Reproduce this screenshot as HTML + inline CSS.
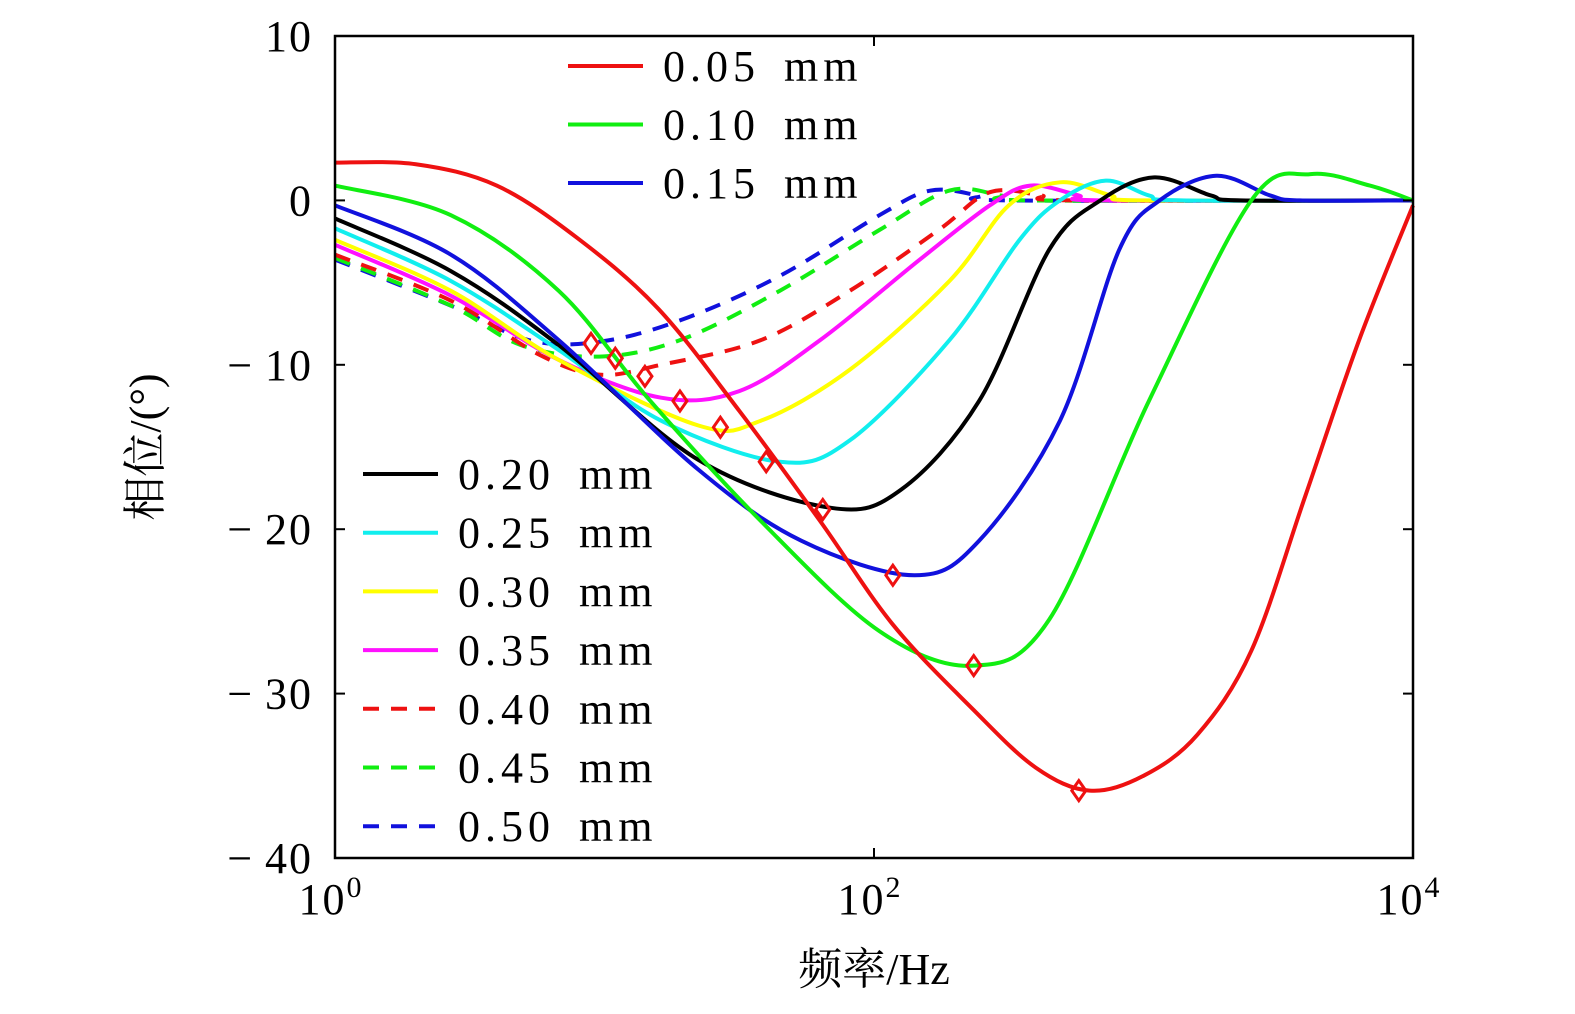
<!DOCTYPE html>
<html><head><meta charset="utf-8"><style>
html,body{margin:0;padding:0;background:#fff;}
svg{display:block;font-family:"Liberation Serif","Noto Serif CJK SC",serif;}
</style></head><body>
<svg id="chart" width="1575" height="1014" viewBox="0 0 1575 1014">
<g id="plot"></g>
</svg>
<script>
const xTickExps=[0,2,4];
const yTicks=[10,0,-10,-20,-30,-40];
const seriesNames=["0.05 mm","0.10 mm","0.15 mm","0.20 mm","0.25 mm","0.30 mm","0.35 mm","0.40 mm","0.45 mm","0.50 mm"];
const s005=[[0,2.3],[0.3,2.2],[0.6,0.9],[0.9,-2.3],[1.2,-6.6],[1.5,-12.8],[1.8,-19.5],[2.07,-25.8],[2.37,-31],[2.6,-34.5],[2.8,-35.9],[3.0,-35],[3.2,-32.5],[3.4,-27.4],[3.6,-18],[3.8,-8.5],[4,-0.3]];
const s010=[[0,0.9],[0.43,-0.9],[0.83,-5.5],[1.17,-12.2],[1.58,-19.5],[2.02,-26.2],[2.37,-28.3],[2.65,-25.5],[3.02,-12.2],[3.4,0],[3.62,1.6],[3.84,0.9],[4,0]];
const s015=[[0,-0.3],[0.43,-3.3],[0.83,-8.5],[1.35,-16.4],[1.73,-20.7],[2.15,-22.8],[2.39,-20.7],[2.69,-13.4],[2.91,-3],[3.06,0],[3.27,1.5],[3.47,0.3],[3.58,0],[4,0]];
const s020=[[0,-1.1],[0.43,-4.3],[0.83,-8.8],[1.35,-15.8],[1.84,-18.7],[2.1,-17.6],[2.39,-12.2],[2.65,-3],[2.84,0],[3.04,1.4],[3.25,0.3],[3.36,0],[4,0]];
const s025=[[0,-1.7],[0.43,-4.9],[0.83,-9.1],[1.21,-13.4],[1.65,-15.9],[1.91,-14.6],[2.28,-8.5],[2.54,-2.4],[2.69,0],[2.86,1.2],[3.02,0.3],[3.14,0],[4,0]];
const s030=[[0,-2.4],[0.43,-5.5],[0.83,-9.7],[1.35,-13.7],[1.58,-13.4],[1.91,-10.3],[2.28,-4.9],[2.5,-0.3],[2.69,1.1],[2.88,0.3],[2.99,0],[4,0]];
const s035=[[0,-2.7],[0.43,-5.8],[0.83,-9.7],[1.21,-12],[1.5,-11.6],[1.8,-8.5],[2.17,-3.6],[2.43,-0.3],[2.58,0.9],[2.76,0.3],[2.84,0],[4,0]];
const s040=[[0,-3.3],[0.43,-6.1],[0.76,-9.4],[0.98,-10.6],[1.21,-10],[1.58,-8.5],[1.91,-5.5],[2.24,-1.8],[2.43,0.5],[2.62,0.3],[2.73,0],[4,0]];
const s045=[[0,-3.5],[0.43,-6.4],[0.69,-8.8],[0.98,-9.5],[1.28,-8.5],[1.65,-5.5],[2.02,-1.8],[2.28,0.6],[2.47,0.3],[2.58,0],[4,0]];
const s050=[[0,-3.6],[0.43,-6.4],[0.72,-8.5],[0.98,-8.6],[1.28,-7.3],[1.65,-4.6],[2.02,-0.9],[2.21,0.6],[2.39,0.3],[2.5,0],[4,0]];
const minima=[[0.95,-8.7],[1.04,-9.6],[1.15,-10.7],[1.28,-12.2],[1.43,-13.8],[1.6,-15.9],[1.81,-18.8],[2.07,-22.8],[2.37,-28.3],[2.76,-35.9]];

const X0=335,X1=1413,Y0=36,Y1=858;
function xs(l){return X0+(l-0)/(4-0)*(X1-X0);}
function ys(v){return Y0+(10-v)/(50)*(Y1-Y0);}
const NS="http://www.w3.org/2000/svg";
const g=document.getElementById('plot');
function mk(t,a,txt){const e=document.createElementNS(NS,t);for(const k in a)e.setAttribute(k,a[k]);if(txt!=null)e.textContent=txt;g.appendChild(e);return e;}
function pathD(pts){
  const P=pts.map(p=>[xs(p[0]),ys(p[1])]);
  let d="M"+P[0][0]+","+P[0][1];
  for(let i=0;i<P.length-1;i++){
    const p0=P[Math.max(0,i-1)],p1=P[i],p2=P[i+1],p3=P[Math.min(P.length-1,i+2)];
    const c1=[p1[0]+(p2[0]-p0[0])/6,p1[1]+(p2[1]-p0[1])/6];
    const c2=[p2[0]-(p3[0]-p1[0])/6,p2[1]-(p3[1]-p1[1])/6];
    d+=" C"+c1[0]+","+c1[1]+" "+c2[0]+","+c2[1]+" "+p2[0]+","+p2[1];
  }
  return d;
}
const series=[s005,s010,s015,s020,s025,s030,s035,s040,s045,s050];
const colors=["#ee1111","#11ee11","#1111dd","#000000","#11eeee","#ffff00","#ff11ff","#ee1111","#11ee11","#1111dd"];
const dashed=[0,0,0,0,0,0,0,1,1,1];
for(let i=series.length-1;i>=0;i--){
  const p=mk('path',{d:pathD(series[i]),fill:'none',stroke:colors[i],'stroke-width':4,'stroke-dasharray':dashed[i]?'16,12':'none'});
  
  
}
minima.forEach((m,i)=>{
  const cx=xs(m[0]),cy=ys(m[1]);
  const e=mk('polygon',{points:`${cx},${cy-10} ${cx+7},${cy} ${cx},${cy+10} ${cx-7},${cy}`,fill:'none',stroke:'#ee1111','stroke-width':3});
  
  
});
const fr=mk('rect',{x:X0,y:Y0,width:X1-X0,height:Y1-Y0,fill:'none',stroke:'#000','stroke-width':2.5});


yTicks.forEach(v=>{
  const y=ys(v);
  mk('line',{x1:X0,x2:X0+10,y1:y,y2:y,stroke:'#000','stroke-width':2});
  mk('line',{x1:X1,x2:X1-10,y1:y,y2:y,stroke:'#000','stroke-width':2});
  const t=mk('text',{x:313,y:y+15,'text-anchor':'end','font-size':44,'letter-spacing':2},v<0?'\u2212\u2009'+(-v):String(v));
  
  
});
xTickExps.forEach(e=>{
  const x=xs(e);
  mk('line',{x1:x,x2:x,y1:Y1,y2:Y1-10,stroke:'#000','stroke-width':2});
  mk('line',{x1:x,x2:x,y1:Y0,y2:Y0+10,stroke:'#000','stroke-width':2});
  const t=mk('text',{x:x-4,y:914,'text-anchor':'middle','font-size':44,'letter-spacing':2});
  t.innerHTML='10<tspan dy="-17" font-size="30">'+e+'</tspan>';
  
  
});
const xt=mk('text',{x:874,y:984,'text-anchor':'middle','font-size':44},'频率/Hz');


const yt=mk('text',{x:0,y:0,'text-anchor':'middle','font-size':44,transform:'translate(160,447) rotate(-90)'},'相位/(°)');


seriesNames.forEach((n,i)=>{
  let lx,ly;
  if(i<3){lx=568;ly=66+i*58.5;}else{lx=363;ly=474+(i-3)*58.7;}
  const l=mk('line',{x1:lx,x2:lx+75,y1:ly,y2:ly,stroke:colors[i],'stroke-width':4,'stroke-dasharray':dashed[i]?'16,12':'none'});
  
  
  const t=mk('text',{x:lx+95,y:ly+15,'font-size':44,'letter-spacing':5,'word-spacing':8},n);
  
  
});
</script>
</body></html>
